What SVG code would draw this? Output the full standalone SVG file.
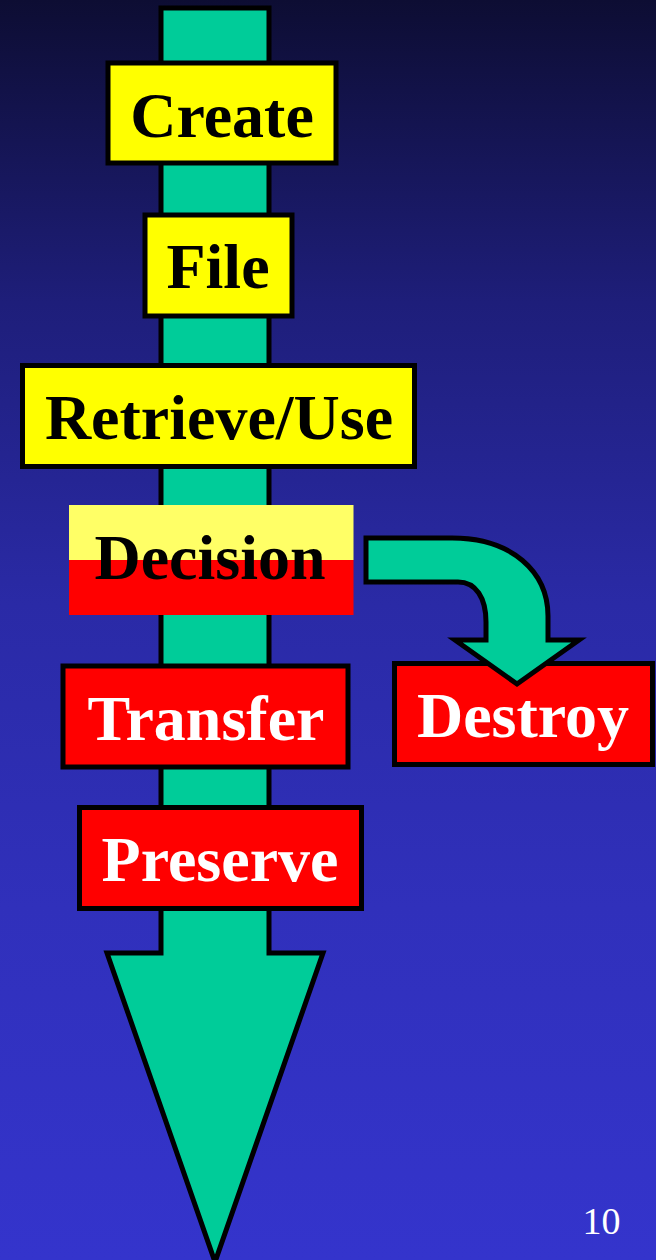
<svg xmlns="http://www.w3.org/2000/svg" width="656" height="1260" viewBox="0 0 656 1260">
<defs>
<linearGradient id="bg" x1="0" y1="0" x2="0" y2="1">
<stop offset="0" stop-color="#0d0d33"/>
<stop offset="0.24" stop-color="#1e1e7a"/>
<stop offset="0.48" stop-color="#2a2aa6"/>
<stop offset="0.72" stop-color="#3030bb"/>
<stop offset="1" stop-color="#3434cc"/>
</linearGradient>
<linearGradient id="dec" x1="0" y1="0" x2="0" y2="1">
<stop offset="0.5" stop-color="#ffff66"/>
<stop offset="0.5" stop-color="#ff0000"/>
</linearGradient>
<style>
.flow{fill:#00cc99;stroke:#000;stroke-width:5;stroke-linejoin:miter}
.box{stroke:#000;stroke-width:5}
.y{fill:#ffff00}
.r{fill:#ff0000}
.lbl{font-family:"Liberation Serif","Times New Roman",serif;font-weight:bold;font-size:64px;text-anchor:middle}
.dk{fill:#000}
.wt{fill:#fff}
</style>
</defs>
<rect x="0" y="0" width="656" height="1260" fill="url(#bg)"/>
<g id="connectors">
<path id="main-flow" class="flow" d="M161,8 L269,8 L269,953 L323,953 L215,1262 L107,953 L161,953 Z"/>
</g>
<g id="create">
<rect class="box y" x="108" y="63" width="228" height="100"/>
<text class="lbl dk" x="222" y="137">Create</text>
</g>
<g id="file">
<rect class="box y" x="145" y="215" width="147" height="101"/>
<text class="lbl dk" x="218" y="288">File</text>
</g>
<g id="retrieve">
<rect class="box y" x="22.5" y="365.5" width="392" height="101"/>
<text class="lbl dk" x="219" y="439">Retrieve/Use</text>
</g>
<g id="decision">
<rect x="69" y="505" width="284.5" height="110" fill="url(#dec)"/>
<text class="lbl dk" x="210" y="579">Decision</text>
</g>
<g id="transfer">
<rect class="box r" x="63" y="666" width="285" height="101"/>
<text class="lbl wt" x="206" y="740">Transfer</text>
</g>
<g id="destroy">
<rect class="box r" x="394.5" y="663.5" width="258" height="101"/>
<text class="lbl wt" x="523" y="737">Destroy</text>
</g>
<g id="preserve">
<rect class="box r" x="79.5" y="807.5" width="282" height="101"/>
<text class="lbl wt" x="220" y="881">Preserve</text>
</g>
<g id="connector-destroy">
<path class="flow" d="M366,538 L452,538 C512,538 548,572 548,616 L548,640 L579,640 L517,684 L455,640 L486,640 L486,622 C486,598 476,582 458,582 L366,582 Z"/>
</g>
<text x="620.5" y="1234" font-family="'Liberation Serif','Times New Roman',serif" font-size="38" fill="#fff" text-anchor="end">10</text>
</svg>
